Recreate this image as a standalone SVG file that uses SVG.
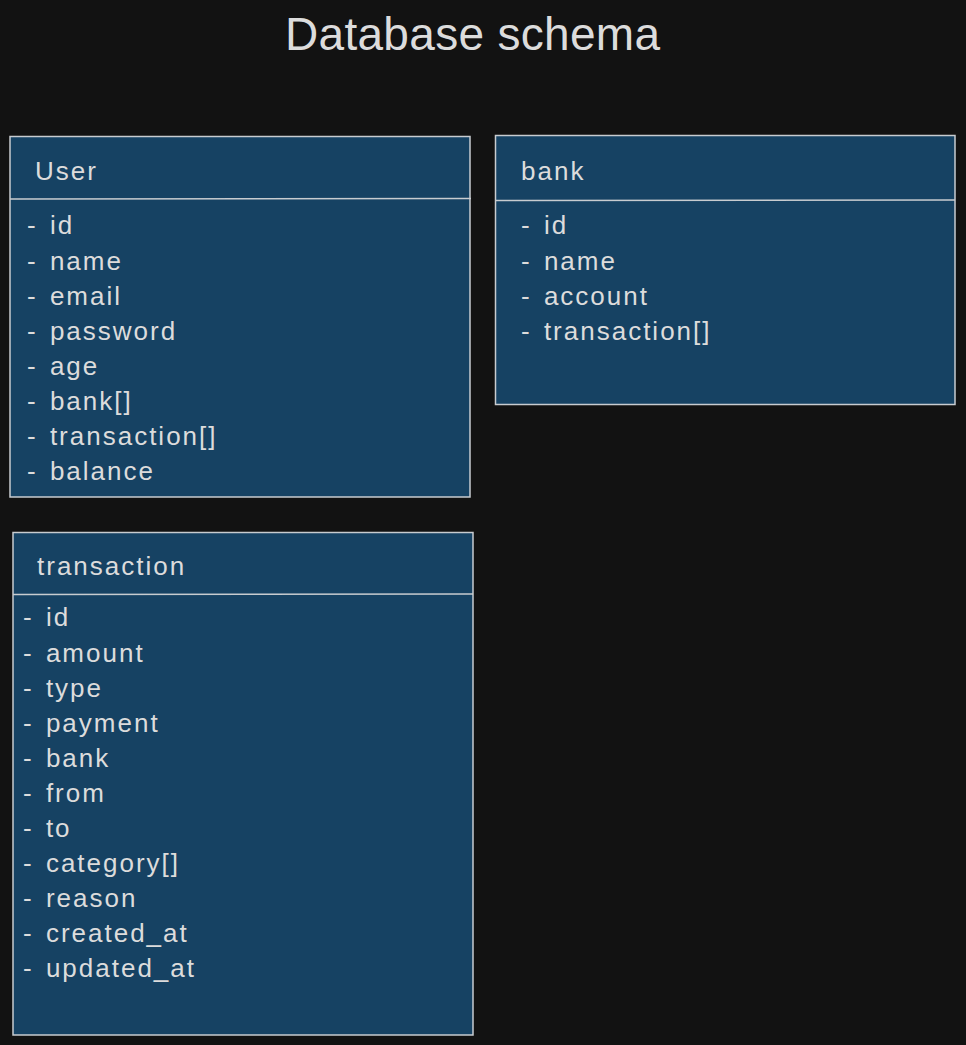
<svg xmlns="http://www.w3.org/2000/svg" width="966" height="1045" viewBox="0 0 966 1045">
<style>
.box{fill:#164263;stroke:#c8ccd0;stroke-width:1.5}
.div{stroke:#c8ccd0;stroke-width:1.5}
text{font-family:"Liberation Sans",Arial,sans-serif;fill:#dcdcdc}
.f{font-size:26px;letter-spacing:2px;word-spacing:3px}
.t{font-size:46px;letter-spacing:0.3px}
</style>
<rect width="966" height="1045" fill="#121212"/>
<g id="title"><text class="t" x="285" y="50">Database schema</text></g>
<g id="user">
<rect class="box" x="10" y="136.5" width="460" height="360.5"/>
<line class="div" x1="10" y1="199" x2="471" y2="198.5"/>
<text class="f" x="35" y="180">User</text>
<text class="f" x="27" y="234">- id</text>
<text class="f" x="27" y="270">- name</text>
<text class="f" x="27" y="305">- email</text>
<text class="f" x="27" y="340">- password</text>
<text class="f" x="27" y="375">- age</text>
<text class="f" x="27" y="410">- bank[]</text>
<text class="f" x="27" y="445">- transaction[]</text>
<text class="f" x="27" y="480">- balance</text>
</g>
<g id="bank">
<rect class="box" x="495.5" y="135.5" width="459.5" height="269"/>
<line class="div" x1="495.5" y1="200.5" x2="955" y2="200"/>
<text class="f" x="521" y="180">bank</text>
<text class="f" x="521" y="234">- id</text>
<text class="f" x="521" y="270">- name</text>
<text class="f" x="521" y="305">- account</text>
<text class="f" x="521" y="340">- transaction[]</text>
</g>
<g id="transaction">
<rect class="box" x="13" y="532.5" width="460" height="502.5"/>
<line class="div" x1="13" y1="594.5" x2="473" y2="594"/>
<text class="f" x="37" y="575">transaction</text>
<text class="f" x="23" y="626">- id</text>
<text class="f" x="23" y="662">- amount</text>
<text class="f" x="23" y="697">- type</text>
<text class="f" x="23" y="732">- payment</text>
<text class="f" x="23" y="767">- bank</text>
<text class="f" x="23" y="802">- from</text>
<text class="f" x="23" y="837">- to</text>
<text class="f" x="23" y="872">- category[]</text>
<text class="f" x="23" y="907">- reason</text>
<text class="f" x="23" y="942">- created_at</text>
<text class="f" x="23" y="977">- updated_at</text>
</g>
<g id="connectors"></g>
</svg>
